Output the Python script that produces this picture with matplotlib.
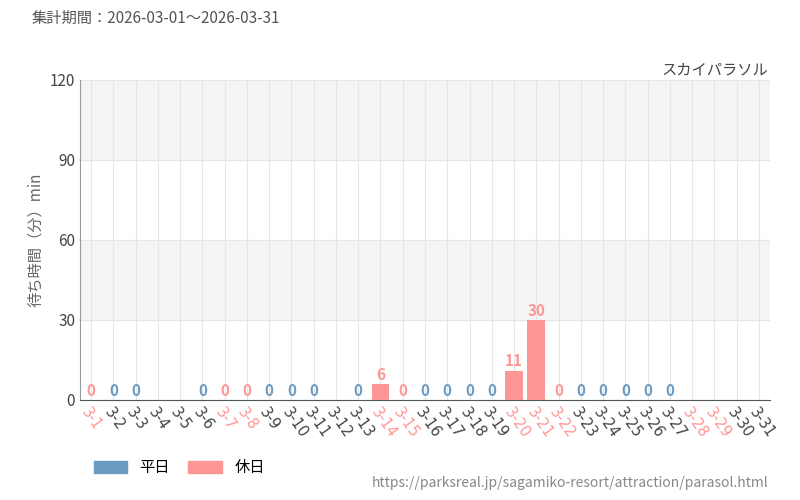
import numpy as np
import matplotlib.pyplot as plt
from matplotlib.patches import Patch

plt.rcParams['font.family'] = ['Noto Sans CJK JP', 'DejaVu Sans']

# data
days = [f"3-{d}" for d in range(1, 32)]
waits = [0, 0, 0, None, None, 0, 0, 0, 0, 0, 0, None, 0, 6, 0, 0, 0, 0, 0, 11,
         30, 0, 0, 0, 0, 0, 0, None, None, None, None]
holidays = [1, 7, 8, 14, 15, 20, 21, 22, 28, 29]

weekday_color = "#6a9bc3"
holiday_color = "#ff9696"

fig = plt.figure(figsize=(8, 5), dpi=100)
ax = fig.add_axes([0.1, 0.2, 0.8625, 0.64])

x = np.arange(len(days))
for i, v in enumerate(waits):
    if v is None:
        continue
    c = holiday_color if (i + 1) in holidays else weekday_color
    ax.bar(i, v, width=0.8, color=c, zorder=3)
    ax.text(i, v + 0.5, str(v), ha="center", va="bottom", color=c,
            fontsize=11, fontweight="bold", zorder=4)

ax.set_xlim(-0.5, len(days) - 0.5)
ax.set_ylim(0, 120)
ax.set_yticks([0, 30, 60, 90, 120])
for lo in (30, 90):
    ax.axhspan(lo, lo + 30, color="#f5f5f5", zorder=0)
ax.grid(axis="y", color="#e6e6e6", zorder=1)
for xi in x:
    ax.axvline(xi, color="#e6e6e6", lw=0.8, zorder=1)

ax.set_xticks(x)
ax.set_xticklabels(days, rotation=-55, ha="left", rotation_mode="anchor",
                   fontsize=10.5, family="DejaVu Sans")
for i, lab in enumerate(ax.get_xticklabels()):
    lab.set_color(holiday_color if (i + 1) in holidays else "#444444")
ax.tick_params(axis="y", labelsize=11, colors="#444444", length=0)
ax.tick_params(axis="x", length=0)
for s in ("top", "right"):
    ax.spines[s].set_visible(False)
ax.spines["left"].set_color("#999999")
ax.spines["bottom"].set_color("#555555")
ax.set_ylabel("待ち時間（分）min", color="#666666", fontsize=11)

fig.text(0.04, 0.955, "集計期間：2026-03-01～2026-03-31", fontsize=11, color="#555555")
fig.text(0.96, 0.85, "スカイパラソル", fontsize=11, color="#444444", ha="right")
fig.text(0.96, 0.025, "https://parksreal.jp/sagamiko-resort/attraction/parasol.html",
         fontsize=10, color="#888888", ha="right")
fig.legend(handles=[Patch(color=weekday_color, label="平日"),
                    Patch(color=holiday_color, label="休日")],
           loc="lower left", bbox_to_anchor=(0.1, 0.02), ncol=2, frameon=False,
           fontsize=11, handlelength=2.2, handleheight=0.9, columnspacing=1.2)

fig.savefig("out.png")
